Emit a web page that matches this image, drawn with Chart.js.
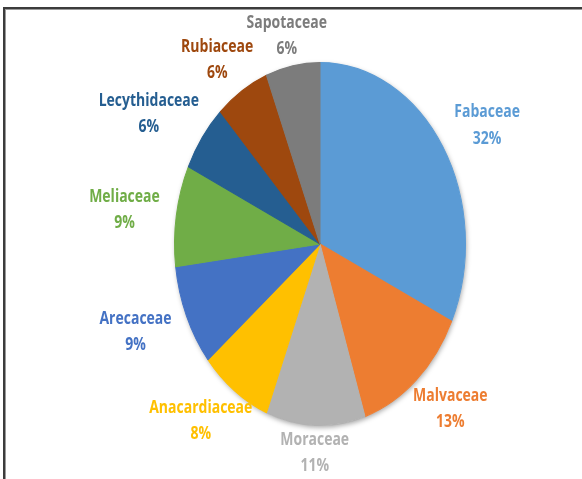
<!DOCTYPE html>
<html>
<head>
<meta charset="utf-8">
<script src="https://cdn.jsdelivr.net/npm/chart.js@4"></script>
<style>
  html, body { margin: 0; padding: 0; background: #fff; }
  #wrap { position: relative; width: 582px; height: 479px; overflow: hidden; }
  #frame {
    position: absolute; left: 3px; top: 7px; width: 600px; height: 500px;
    border-top: 2px solid #3c3c3c; border-left: 2px solid #3c3c3c;
    box-shadow: inset 1px 1px 0 #9a9a9a; pointer-events: none;
  }
  canvas { position: absolute; left: 0; top: 0; }
</style>
</head>
<body>
<div id="wrap">
  <canvas id="pie" width="582" height="479"></canvas>
  <div id="frame"></div>
</div>
<script>
// families and their share (%)
const families = ['Fabaceae', 'Malvaceae', 'Moraceae', 'Anacardiaceae', 'Arecaceae',
                  'Meliaceae', 'Lecythidaceae', 'Rubiaceae', 'Sapotaceae'];
const shares = [32, 13, 11, 8, 9, 9, 6, 6, 6];
const colors = ['#5B9BD5', '#ED7D31', '#B2B2B2', '#FFC000', '#4472C4',
                '#70AD47', '#255E91', '#9E480E', '#7C7C7C'];

// the picture is stretched vertically
const SY = 1.247;

const stretchPie = {
  id: 'stretchPie',
  beforeDatasetsDraw(chart) {
    const ctx = chart.ctx;
    const arc = chart.getDatasetMeta(0).data[0];
    const cx = arc.x, cy = arc.y;
    ctx.save();
    ctx.translate(cx, cy);
    ctx.scale(1, SY);
    ctx.translate(-cx, -cy);
    // soft shadow behind the pie
    ctx.save();
    ctx.beginPath();
    ctx.arc(cx, cy, arc.outerRadius, 0, Math.PI * 2);
    ctx.fillStyle = '#ffffff';
    ctx.shadowColor = 'rgba(0,0,0,0.35)';
    ctx.shadowBlur = 5;
    ctx.shadowOffsetX = 1;
    ctx.shadowOffsetY = 2;
    ctx.fill();
    ctx.restore();
  },
  afterDatasetsDraw(chart) {
    chart.ctx.restore();
  }
};

// name + percentage outside each slice, pushed out by the size of the text box
const outsideLabels = {
  id: 'outsideLabels',
  afterDatasetsDraw(chart) {
    const ctx = chart.ctx;
    const meta = chart.getDatasetMeta(0);
    const lineGap = 21;
    const halfH = 15.5;
    ctx.save();
    ctx.font = 'bold 14px "Open Sans", sans-serif';
    ctx.textAlign = 'center';
    ctx.textBaseline = 'middle';
    meta.data.forEach((arc, i) => {
      const mid = (arc.startAngle + arc.endAngle) / 2;
      const dx = Math.cos(mid), dy = Math.sin(mid);
      const ax = Math.abs(dx), ay = Math.abs(dy);
      const name = families[i];
      const pct = shares[i] + '%';
      const w = Math.max(ctx.measureText(name).width, ctx.measureText(pct).width);
      const gap = 6 + 8 * ax + 8 * ax * ay;
      const r = arc.outerRadius + gap;
      const lx = arc.x + dx * (r + (w / 2) * ax + halfH * ay);
      const ly = arc.y + dy * r * SY + dy * halfH * SY;
      ctx.save();
      ctx.translate(lx, ly);
      ctx.scale(1, SY);
      ctx.fillStyle = colors[i];
      ctx.fillText(name, 0, -lineGap / 2);
      ctx.fillText(pct, 0, lineGap / 2);
      ctx.restore();
    });
    ctx.restore();
  }
};

new Chart(document.getElementById('pie'), {
  type: 'pie',
  data: {
    labels: families,
    datasets: [{
      data: shares,
      backgroundColor: colors,
      borderColor: colors,
      borderWidth: 1,
      clip: false
    }]
  },
  options: {
    responsive: false,
    animation: false,
    layout: { padding: { left: 174, right: 116, top: 98, bottom: 89 } },
    plugins: {
      legend: { display: false },
      tooltip: { enabled: false }
    }
  },
  plugins: [stretchPie, outsideLabels]
});
</script>
</body>
</html>
